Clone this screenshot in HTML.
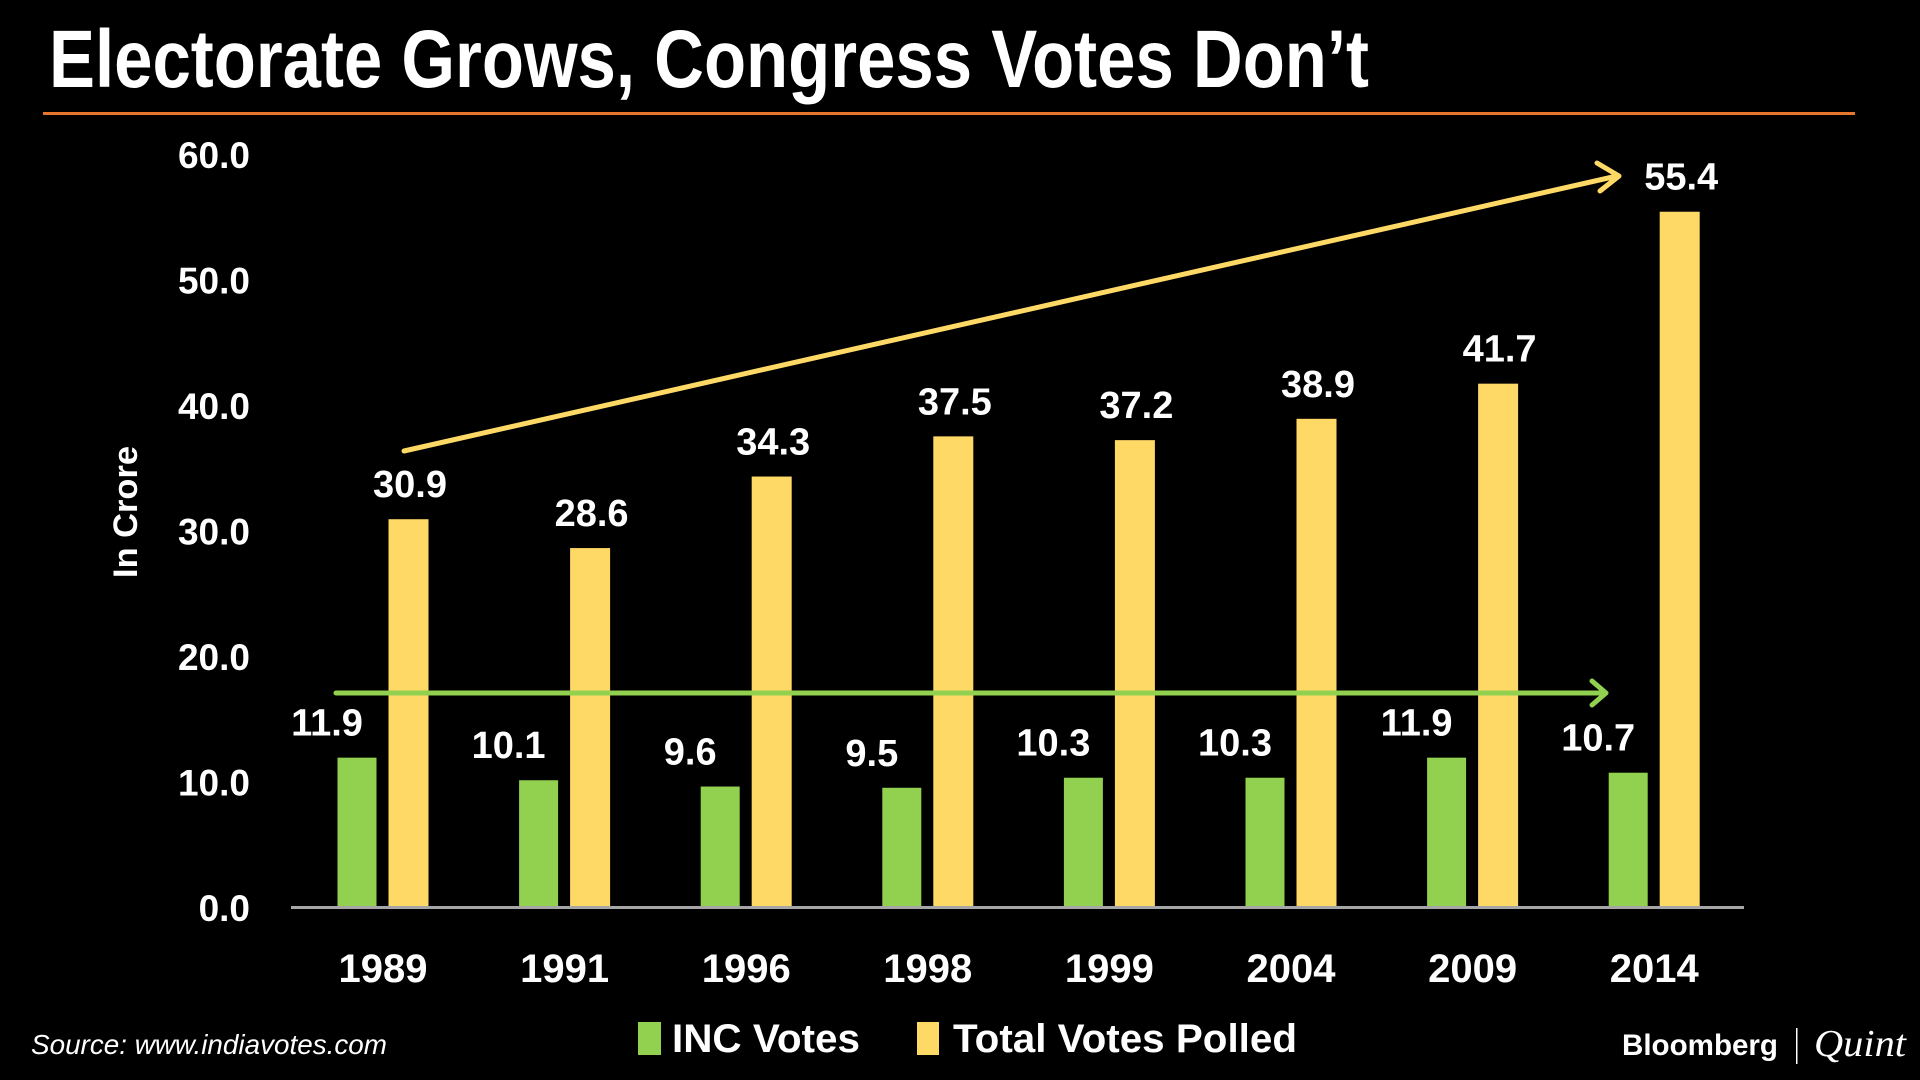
<!DOCTYPE html>
<html><head><meta charset="utf-8"><style>
html,body{margin:0;padding:0;background:#000;}
svg{display:block;font-family:"Liberation Sans",sans-serif;}
</style></head><body>
<svg id="chart" width="1920" height="1080" viewBox="0 0 1920 1080">
  <text x="49" y="87" font-size="82" font-weight="bold" fill="#fff" textLength="1320" lengthAdjust="spacingAndGlyphs">Electorate Grows, Congress Votes Don’t</text>
  <rect x="43" y="112" width="1812" height="3" fill="#e8772e"/>
  <g id="yaxis"></g>
  <text transform="translate(137,512) rotate(-90)" text-anchor="middle" font-size="34" font-weight="bold" fill="#fff" textLength="132" lengthAdjust="spacingAndGlyphs">In Crore</text>
  <g id="bars"></g>
  <g id="xaxis"></g>
  <g id="arrows"></g>
  <text x="31" y="1054" font-size="28" font-style="italic" fill="#fff" textLength="356" lengthAdjust="spacingAndGlyphs">Source: www.indiavotes.com</text>
  <g>
    <rect x="638" y="1022" width="23" height="33" fill="#92d050"/>
    <text x="672" y="1052" font-size="40" font-weight="bold" fill="#fff" textLength="188" lengthAdjust="spacingAndGlyphs">INC Votes</text>
    <rect x="917" y="1022" width="22" height="33" fill="#ffd966"/>
    <text x="953" y="1052" font-size="40" font-weight="bold" fill="#fff" textLength="344" lengthAdjust="spacingAndGlyphs">Total Votes Polled</text>
  </g>
  <text x="1622" y="1055" font-size="30" font-weight="bold" fill="#fff" textLength="156" lengthAdjust="spacingAndGlyphs">Bloomberg</text>
  <rect x="1796" y="1028" width="1.5" height="36" fill="#fff"/>
  <text x="1814" y="1056" font-size="38" font-style="italic" font-family="Liberation Serif, serif" fill="#fff" textLength="92" lengthAdjust="spacingAndGlyphs">Quint</text>
</svg>
<script>
const years = ["1989","1991","1996","1998","1999","2004","2009","2014"];
const incVotes = [11.9,10.1,9.6,9.5,10.3,10.3,11.9,10.7];
const totalVotes = [30.9,28.6,34.3,37.5,37.2,38.9,41.7,55.4];
const yTicks = [0,10,20,30,40,50,60];

const NS = "http://www.w3.org/2000/svg";
function y(v){ return 907 - v*12.55; }
function xc(i){ return 383 + i*181.6; }
function mk(tag, attrs, parent, txt){
  const e = document.createElementNS(NS, tag);
  for (const k in attrs) e.setAttribute(k, attrs[k]);
  if (txt !== undefined) e.textContent = txt;
  parent.appendChild(e);
  return e;
}
const yaxis = document.getElementById('yaxis');
yTicks.forEach(t => {
  const e = mk('text', {x:250, y:y(t)+14, 'text-anchor':'end', 'font-size':37, 'font-weight':'bold', fill:'#fff'}, yaxis, t.toFixed(1));
  
  
});
const bars = document.getElementById('bars');
years.forEach((yr, i) => {
  const c = xc(i);
  const g = mk('rect', {x:c-45.5, y:y(incVotes[i]), width:39, height:y(0)-y(incVotes[i]), fill:'#92d050'}, bars);
  
  
  const t = mk('rect', {x:c+5.5, y:y(totalVotes[i]), width:40, height:y(0)-y(totalVotes[i]), fill:'#ffd966'}, bars);
  
  
  const gl = mk('text', {x:c-56, y:y(incVotes[i])-22, 'text-anchor':'middle', 'font-size':38, 'font-weight':'bold', fill:'#fff'}, bars, incVotes[i].toFixed(1));
  
  
  const tl = mk('text', {x:c+27, y:y(totalVotes[i])-22, 'text-anchor':'middle', 'font-size':38, 'font-weight':'bold', fill:'#fff'}, bars, totalVotes[i].toFixed(1));
  
  
});
const xaxis = document.getElementById('xaxis');
const base = mk('rect', {x:291, y:y(0)-1, width:1453, height:3, fill:'#a6a6a6'}, xaxis);


years.forEach((yr, i) => {
  const e = mk('text', {x:xc(i), y:982, 'text-anchor':'middle', 'font-size':40, 'font-weight':'bold', fill:'#fff'}, xaxis, yr);
  
  
});
const arrows = document.getElementById('arrows');
const ya = mk('path', {d:'M404 451 L1617 176 M1597 163 L1619 176 L1600 191', stroke:'#ffd966', 'stroke-width':5, fill:'none', 'stroke-linecap':'round', 'stroke-linejoin':'round'}, arrows);


const ga = mk('path', {d:'M336 693 L1605 693 M1592 681 L1606 693 L1592 705', stroke:'#92d050', 'stroke-width':5, fill:'none', 'stroke-linecap':'round', 'stroke-linejoin':'round'}, arrows);


</script>
</body></html>
